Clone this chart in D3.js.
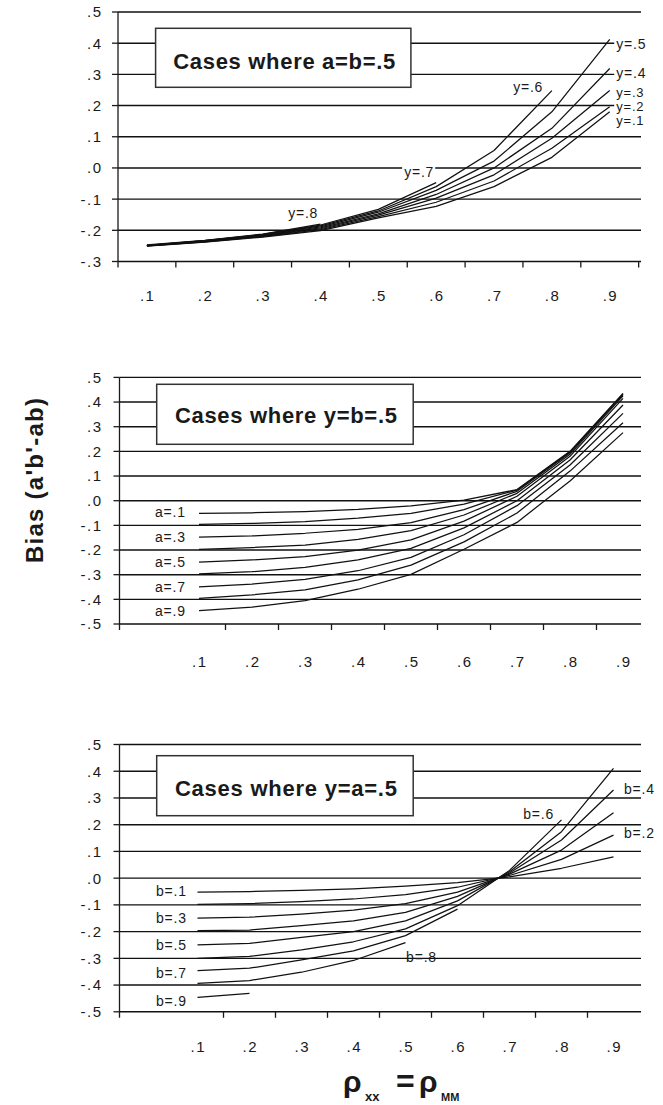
<!DOCTYPE html>
<html><head><meta charset="utf-8">
<script src="https://cdn.jsdelivr.net/npm/d3@7"></script>
<style>
body{margin:0;background:#fff}
svg{display:block}
text{font-family:"Liberation Sans",Arial,Helvetica,sans-serif;fill:#1a1a1a}
</style>
</head><body>
<svg id="chart" width="663" height="1105"></svg>
<script>
// ---------------- DATA ----------------
const categories = [".1", ".2", ".3", ".4", ".5", ".6", ".7", ".8", ".9"];

const topTickValues = [0.5, 0.4, 0.3, 0.2, 0.1, 0.0, -0.1, -0.2, -0.3];
const topTickLabels = [".5", ".4", ".3", ".2", ".1", ".0", "-.1", "-.2", "-.3"];
const fullTickValues = [0.5, 0.4, 0.3, 0.2, 0.1, 0.0, -0.1, -0.2, -0.3, -0.4, -0.5];
const fullTickLabels = [".5", ".4", ".3", ".2", ".1", ".0", "-.1", "-.2", "-.3", "-.4", "-.5"];

// Panel 1: cases where a=b=.5, series by y
const topNames = ["y=.1", "y=.2", "y=.3", "y=.4", "y=.5", "y=.6", "y=.7", "y=.8"];
const topY1 = [-0.251, -0.238, -0.222, -0.201, -0.160, -0.123, -0.060, 0.034, 0.180];
const topY2 = [-0.250, -0.237, -0.220, -0.198, -0.156, -0.110, -0.042, 0.063, 0.196];
const topY3 = [-0.250, -0.236, -0.219, -0.195, -0.151, -0.097, -0.022, 0.095, 0.248];
const topY4 = [-0.249, -0.235, -0.217, -0.192, -0.147, -0.085, 0.000, 0.127, 0.319];
const topY5 = [-0.249, -0.234, -0.216, -0.189, -0.142, -0.072, 0.022, 0.180, 0.412];
const topY6 = [-0.248, -0.233, -0.215, -0.186, -0.138, -0.060, 0.056, 0.248, null];
const topY7 = [-0.248, -0.233, -0.213, -0.183, -0.133, -0.047, null, null, null];
const topY8 = [-0.247, -0.232, -0.212, -0.180, null, null, null, null, null];

// Panel 2: cases where y=b=.5, series by a
const midNames = ["a=.1", "a=.2", "a=.3", "a=.4", "a=.5", "a=.6", "a=.7", "a=.8", "a=.9"];
const midA1 = [-0.051, -0.049, -0.044, -0.035, -0.021, 0.002, 0.045, 0.200, 0.435];
const midA2 = [-0.096, -0.092, -0.085, -0.071, -0.051, -0.014, 0.043, 0.198, 0.433];
const midA3 = [-0.148, -0.143, -0.132, -0.116, -0.089, -0.036, 0.038, 0.194, 0.430];
const midA4 = [-0.197, -0.190, -0.180, -0.157, -0.121, -0.058, 0.030, 0.188, 0.425];
const midA5 = [-0.249, -0.240, -0.227, -0.200, -0.159, -0.083, 0.018, 0.180, 0.415];
const midA6 = [-0.297, -0.288, -0.270, -0.240, -0.193, -0.110, 0.000, 0.165, 0.388];
const midA7 = [-0.349, -0.338, -0.319, -0.284, -0.230, -0.138, -0.020, 0.145, 0.354];
const midA8 = [-0.396, -0.382, -0.362, -0.321, -0.261, -0.167, -0.050, 0.120, 0.316];
const midA9 = [-0.446, -0.432, -0.405, -0.359, -0.299, -0.197, -0.088, 0.080, 0.276];

// Panel 3: cases where y=a=.5, series by b
const botNames = ["b=.1", "b=.2", "b=.3", "b=.4", "b=.5", "b=.6", "b=.7", "b=.8", "b=.9"];
const botB1 = [-0.052, -0.050, -0.046, -0.040, -0.030, -0.017, 0.005, 0.037, 0.080];
const botB2 = [-0.098, -0.095, -0.088, -0.078, -0.062, -0.034, 0.010, 0.070, 0.161];
const botB3 = [-0.150, -0.146, -0.135, -0.120, -0.095, -0.052, 0.015, 0.105, 0.245];
const botB4 = [-0.196, -0.194, -0.178, -0.160, -0.128, -0.068, 0.019, 0.143, 0.330];
const botB5 = [-0.250, -0.244, -0.222, -0.200, -0.160, -0.085, 0.024, 0.174, 0.411];
const botB6 = [-0.300, -0.293, -0.268, -0.238, -0.190, -0.103, 0.029, 0.218, null];
const botB7 = [-0.346, -0.337, -0.306, -0.272, -0.215, -0.116, null, null, null];
const botB8 = [-0.394, -0.383, -0.352, -0.308, -0.241, null, null, null, null];
const botB9 = [-0.446, -0.431, null, null, null, null, null, null, null];

// ---------------- DRAWING ----------------
const svg = d3.select("#chart");
const INK = "#1a1a1a";
const TICK_FS = 15, TICK_LS = 1.5;

function drawPanel(cfg) {
  const g = svg.append("g");
  const domain = cfg.emptyFirst ? [""].concat(categories) : categories.slice();
  const x = d3.scaleBand().domain(domain).range(cfg.xRange).paddingInner(0).paddingOuter(0);
  const xc = c => x(c) + x.bandwidth() / 2;
  const y = d3.scaleLinear().domain(cfg.yDomain).range(cfg.yRange);
  const axisX = cfg.xRange[0];
  const gridRight = 641;
  const yBottom = y(cfg.yDomain[0]);

  // gridlines
  g.append("g").selectAll("line").data(cfg.tickValues).join("line")
    .attr("x1", axisX).attr("x2", gridRight)
    .attr("y1", d => y(d)).attr("y2", d => y(d))
    .attr("stroke", "#111").attr("stroke-width", 1.4);

  // y axis
  g.append("line").attr("x1", axisX).attr("x2", axisX)
    .attr("y1", y(cfg.yDomain[1])).attr("y2", yBottom + 6)
    .attr("stroke", INK).attr("stroke-width", 1.3);
  g.append("g").selectAll("line").data(cfg.tickValues).join("line")
    .attr("x1", axisX - 6).attr("x2", axisX)
    .attr("y1", d => y(d)).attr("y2", d => y(d))
    .attr("stroke", INK).attr("stroke-width", 1.3);
  g.append("g").selectAll("text").data(cfg.tickValues).join("text")
    .attr("x", 101 + TICK_LS).attr("y", d => y(d)).attr("dy", "0.36em")
    .attr("text-anchor", "end").attr("font-size", TICK_FS).attr("letter-spacing", TICK_LS + "px")
    .text((d, i) => cfg.tickLabels[i]);

  // x ticks
  const xt = categories.slice(1).map(c => x(c));
  if (cfg.endTick) xt.push(cfg.xRange[1]);
  g.append("g").selectAll("line").data(xt).join("line")
    .attr("x1", d => d).attr("x2", d => d)
    .attr("y1", yBottom).attr("y2", yBottom + 6)
    .attr("stroke", INK).attr("stroke-width", 1.3);
  g.append("g").selectAll("text").data(categories).join("text")
    .attr("x", c => xc(c) + TICK_LS / 2).attr("y", cfg.xLabelY).attr("dy", "0.36em")
    .attr("text-anchor", "middle").attr("font-size", TICK_FS).attr("letter-spacing", TICK_LS + "px")
    .text(c => c);

  // series lines
  const line = d3.line()
    .defined(d => d.v !== null)
    .x(d => xc(d.c)).y(d => y(d.v));
  cfg.series.forEach(s => {
    const pts = s.map((v, i) => ({ c: categories[i], v: v }));
    g.append("path").attr("d", line(pts))
      .attr("fill", "none").attr("stroke", "#111").attr("stroke-width", 1.25)
      .attr("stroke-linejoin", "round");
  });

  // curve labels
  cfg.labels.forEach(l => {
    const px = l.cat === null ? axisX + l.dx : xc(l.cat) + l.dx;
    const t = g.append("text")
      .attr("x", px).attr("y", y(l.v)).attr("dy", "0.36em")
      .attr("text-anchor", l.anchor || "start")
      .attr("font-size", l.fs || 14).attr("letter-spacing", "0.8px")
      .text(l.text);
    if (l.bg) {
      const b = t.node().getBBox();
      g.insert("rect", () => t.node())
        .attr("x", b.x - 2).attr("y", b.y + 2).attr("width", b.width + 3).attr("height", b.height - 4)
        .attr("fill", "#fff");
    }
  });

  // title box
  g.append("rect").attr("x", cfg.box[0]).attr("y", cfg.box[1])
    .attr("width", cfg.box[2]).attr("height", cfg.box[3])
    .attr("fill", "#fff").attr("stroke", "#333").attr("stroke-width", 1.5);
  g.append("text").attr("x", cfg.box[0] + cfg.box[2] / 2 + 1).attr("y", cfg.titleBaseline)
    .attr("text-anchor", "middle").attr("font-size", 22).attr("font-weight", "bold")
    .attr("textLength", 222).attr("lengthAdjust", "spacing")
    .text(cfg.title);
}

drawPanel({
  title: "Cases where a=b=.5",
  emptyFirst: false,
  xRange: [118, 638.65],
  yDomain: [-0.3, 0.5], yRange: [261.5, 12],
  tickValues: topTickValues, tickLabels: topTickLabels,
  endTick: true,
  xLabelY: 296,
  box: [155.6, 28.3, 255.3, 59], titleBaseline: 68.5,
  series: [topY1, topY2, topY3, topY4, topY5, topY6, topY7, topY8],
  labels: [
    { text: topNames[4], cat: ".9", dx: 6.5, v: 0.397, bg: true },
    { text: topNames[3], cat: ".9", dx: 6.5, v: 0.303, bg: true },
    { text: topNames[2], cat: ".9", dx: 6.5, v: 0.2435, bg: true, fs: 13 },
    { text: topNames[1], cat: ".9", dx: 6.5, v: 0.1986, bg: true, fs: 13 },
    { text: topNames[0], cat: ".9", dx: 6.5, v: 0.1537, bg: true, fs: 13 },
    { text: topNames[5], cat: ".8", dx: -23.7, v: 0.26, anchor: "middle", bg: true },
    { text: topNames[6], cat: ".6", dx: -17, v: -0.012, anchor: "middle", bg: true },
    { text: topNames[7], cat: ".4", dx: -17.3, v: -0.145, anchor: "middle", bg: true }
  ]
});

drawPanel({
  title: "Cases where y=b=.5",
  emptyFirst: true,
  xRange: [119.5, 649.5],
  yDomain: [-0.5, 0.5], yRange: [624, 377.4],
  tickValues: fullTickValues, tickLabels: fullTickLabels,
  endTick: false,
  xLabelY: 662,
  box: [156.7, 384.3, 256.5, 60], titleBaseline: 422.7,
  series: [midA1, midA2, midA3, midA4, midA5, midA6, midA7, midA8, midA9],
  labels: [
    { text: midNames[0], cat: null, dx: 35.5, v: -0.045 },
    { text: midNames[2], cat: null, dx: 35.5, v: -0.148 },
    { text: midNames[4], cat: null, dx: 35.5, v: -0.247 },
    { text: midNames[6], cat: null, dx: 35.5, v: -0.349 },
    { text: midNames[8], cat: null, dx: 35.5, v: -0.447 }
  ]
});

drawPanel({
  title: "Cases where y=a=.5",
  emptyFirst: true,
  xRange: [119.5, 639.5],
  yDomain: [-0.5, 0.5], yRange: [1011.8, 744.5],
  tickValues: fullTickValues, tickLabels: fullTickLabels,
  endTick: false,
  xLabelY: 1046.7,
  box: [156.7, 755.7, 256.5, 60], titleBaseline: 795.7,
  series: [botB1, botB2, botB3, botB4, botB5, botB6, botB7, botB8, botB9],
  labels: [
    { text: botNames[0], cat: null, dx: 36.5, v: -0.047 },
    { text: botNames[2], cat: null, dx: 36.5, v: -0.150 },
    { text: botNames[4], cat: null, dx: 36.5, v: -0.250 },
    { text: botNames[6], cat: null, dx: 36.5, v: -0.354 },
    { text: botNames[8], cat: null, dx: 36.5, v: -0.458 },
    { text: botNames[7], cat: ".5", dx: 16, v: -0.295, anchor: "middle" },
    { text: botNames[5], cat: ".8", dx: -22.8, v: 0.242, anchor: "middle" },
    { text: botNames[3], cat: ".9", dx: 10.5, v: 0.332, bg: true },
    { text: botNames[1], cat: ".9", dx: 10.5, v: 0.168, bg: true }
  ]
});

// Y axis title
svg.append("text")
  .attr("transform", "translate(42.5,480.5) rotate(-90)")
  .attr("text-anchor", "middle").attr("font-size", 24).attr("font-weight", "bold")
  .attr("textLength", 165).attr("lengthAdjust", "spacing")
  .text("Bias (a'b'-ab)");

// X axis title: ρxx = ρMM
const xt = svg.append("text").attr("font-weight", "bold");
xt.append("tspan").attr("x", 343).attr("y", 1092).attr("font-size", 30).text("ρ");
xt.append("tspan").attr("x", 365).attr("y", 1101).attr("font-size", 13).text("xx");
xt.append("tspan").attr("x", 396).attr("y", 1092).attr("font-size", 32).text("=");
xt.append("tspan").attr("x", 419).attr("y", 1092).attr("font-size", 30).text("ρ");
xt.append("tspan").attr("x", 441).attr("y", 1101).attr("font-size", 11).text("MM");
</script>
</body></html>
